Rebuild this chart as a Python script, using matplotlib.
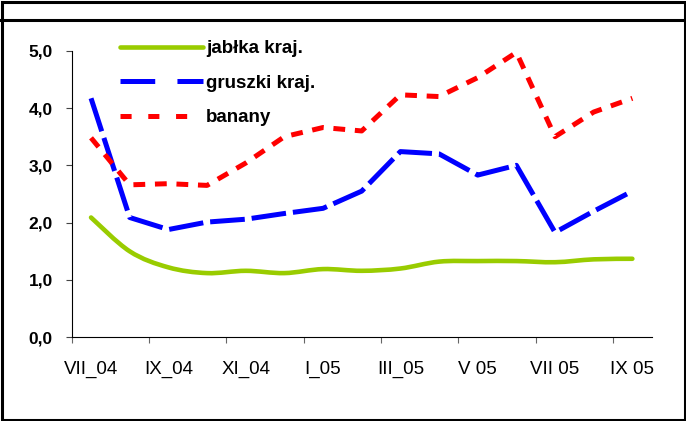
import matplotlib
matplotlib.use("Agg")
import matplotlib.pyplot as plt
from matplotlib.path import Path
from matplotlib.patches import PathPatch, Rectangle
from matplotlib.lines import Line2D
import numpy as np

plt.rcParams['font.family'] = ['Liberation Sans', 'DejaVu Sans']
plt.rcParams['lines.scale_dashes'] = False

categories = ["VII_04", "VIII_04", "IX_04", "X_04", "XI_04", "XII_04", "I_05", "II_05",
              "III_05", "IV_05", "V 05", "VI 05", "VII 05", "VIII 05", "IX 05"]
jablka = [2.09, 1.50, 1.22, 1.12, 1.16, 1.12, 1.19, 1.16, 1.20, 1.32, 1.33, 1.33, 1.31, 1.36, 1.37]
gruszki = [4.17, 2.09, 1.88, 2.01, 2.06, 2.16, 2.25, 2.55, 3.24, 3.20, 2.83, 3.00, 1.83, 2.20, 2.55]
banany = [3.48, 2.66, 2.68, 2.65, 3.04, 3.50, 3.66, 3.60, 4.23, 4.20, 4.53, 4.97, 3.50, 3.93, 4.17]
series_names = ["jabłka kraj.", "gruszki kraj.", "banany"]
y_ticks = [0, 1, 2, 3, 4, 5]
y_tick_labels = ["0,0", "1,0", "2,0", "3,0", "4,0", "5,0"]

W, H = 686, 421
fig = plt.figure(figsize=(W / 100, H / 100), dpi=100)

# outer frame and header line
fig.add_artist(Rectangle((1.5 / W, 1.5 / H), (W - 3) / W, (H - 3) / H, transform=fig.transFigure,
                         fill=False, edgecolor='black', linewidth=2.2))
fig.add_artist(Line2D([0, 1], [1 - 19.5 / H, 1 - 19.5 / H], transform=fig.transFigure,
                      color='black', linewidth=2.2))

ax = fig.add_axes([71.7 / W, 1 - 337.3 / H, 580 / W, 286.6 / H])
n = len(categories)
x = np.arange(n)

# smoothed green line (Bezier through data points)
def smooth_path(xs, ys):
    pts = np.column_stack([xs, ys])
    verts = [pts[0]]
    codes = [Path.MOVETO]
    for i in range(len(pts) - 1):
        p0 = pts[i - 1] if i > 0 else pts[i]
        p1 = pts[i]
        p2 = pts[i + 1]
        p3 = pts[i + 2] if i + 2 < len(pts) else pts[i + 1]
        c1 = p1 + (p2 - p0) / 6.0
        c2 = p2 - (p3 - p1) / 6.0
        verts += [c1, c2, p2]
        codes += [Path.CURVE4] * 3
    return Path(verts, codes)

green = '#99CC00'
ax.add_patch(PathPatch(smooth_path(x, jablka), fill=False, edgecolor=green, linewidth=3.3,
                       capstyle='round', joinstyle='round', zorder=3))
ax.plot(x, gruszki, color='#0000FF', linewidth=3.6, dashes=(25, 5), solid_capstyle='butt',
        dash_capstyle='butt', zorder=3)
ax.plot(x, banany, color='#FF0000', linewidth=3.6, dashes=(8.5, 7), dash_capstyle='butt', zorder=3)

ax.set_xlim(-0.5, n - 0.5)
ax.set_ylim(0, 5)
for s in ['top', 'right']:
    ax.spines[s].set_visible(False)
for s in ['left', 'bottom']:
    ax.spines[s].set_linewidth(0.8)
    ax.spines[s].set_color('black')

ax.set_yticks(y_ticks)
ax.set_yticklabels(y_tick_labels, fontsize=12.5, fontweight='bold')
ax.tick_params(axis='y', direction='out', length=4.5, width=0.8, color='#444444', pad=9)

ax.set_xticks(np.arange(-0.5, n - 0.5, 2))
ax.set_xticklabels([])
ax.tick_params(axis='x', which='major', direction='out', length=4.5, width=0.8, color='#666666')
ax.set_xticks(x[::2], minor=True)
ax.set_xticklabels(categories[::2], minor=True, fontsize=13.5)
ax.tick_params(axis='x', which='minor', length=0, pad=17)

handles = [
    Line2D([], [], color=green, linewidth=3.3, solid_capstyle='round'),
    Line2D([], [], color='#0000FF', linewidth=3.6, dashes=(25, 16), dash_capstyle='butt'),
    Line2D([], [], color='#FF0000', linewidth=3.6, dashes=(8, 12), dash_capstyle='butt'),
]
leg = fig.legend(handles, series_names, loc='upper left', bbox_to_anchor=(120 / W, 1 - 40 / H),
                 frameon=False, prop={'weight': 'bold', 'size': 13.5}, handlelength=4.43,
                 handletextpad=0.16, labelspacing=0.93, borderaxespad=0, borderpad=0)

fig.savefig('out.png', dpi=100)
